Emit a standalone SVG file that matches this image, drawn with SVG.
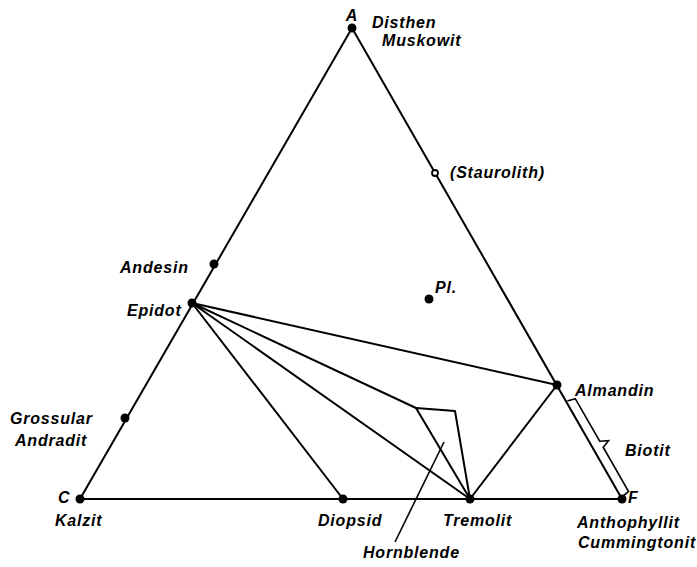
<svg xmlns="http://www.w3.org/2000/svg" width="697" height="567" viewBox="0 0 697 567">
<style>
.ln{stroke:#000;stroke-width:2;fill:none;stroke-linejoin:round;stroke-linecap:round}
.thin{stroke:#000;stroke-width:1.6;fill:none;stroke-linejoin:miter}
.dot{fill:#000}
text{font-family:"Liberation Sans",Arial,sans-serif;font-style:italic;font-weight:bold;font-size:16px;letter-spacing:0.8px;fill:#000}
</style>
<rect width="697" height="567" fill="#fff"/>
<g id="connectors">
<path class="ln" d="M352,28 L80,499 L622,499 Z"/>
<line class="ln" x1="192" y1="303" x2="557" y2="385"/>
<line class="ln" x1="192" y1="303" x2="343" y2="499"/>
<line class="ln" x1="192" y1="303" x2="470" y2="499"/>
<line class="ln" x1="192" y1="303" x2="416" y2="408"/>
<line class="ln" x1="557" y1="385" x2="470" y2="499"/>
<path class="ln" d="M470,499 L416,408 L455,411 Z"/>
<line class="thin" x1="444" y1="442" x2="395" y2="542"/>
<path class="thin" transform="translate(557,385) rotate(60.1)" d="M19,-1 L21,-9 L70,-9 L74,-17 L77,-9 L128,-9 L129,-3"/>
</g>
<g id="A"><circle class="dot" cx="352" cy="28" r="4.5"/><text x="352" y="21" text-anchor="middle">A</text><text x="372" y="28">Disthen</text><text x="382" y="46">Muskowit</text></g>
<g id="Staurolith"><circle cx="435" cy="173" r="3" fill="#fff" stroke="#000" stroke-width="1.8"/><text x="450" y="178">(Staurolith)</text></g>
<g id="Andesin"><circle class="dot" cx="214" cy="264" r="4.5"/><text x="120" y="273">Andesin</text></g>
<g id="Epidot"><circle class="dot" cx="192" cy="303" r="4.5"/><text x="127" y="316">Epidot</text></g>
<g id="Pl"><circle class="dot" cx="429" cy="299" r="4.5"/><text x="435" y="293">Pl.</text></g>
<g id="Almandin"><circle class="dot" cx="557" cy="385" r="4.5"/><text x="575" y="396">Almandin</text></g>
<g id="Grossular"><circle class="dot" cx="125" cy="418" r="4.5"/><text x="10" y="424">Grossular</text><text x="15" y="446">Andradit</text></g>
<g id="Biotit"><text x="625" y="456">Biotit</text></g>
<g id="C"><circle class="dot" cx="80" cy="499" r="4.5"/><text x="58" y="503">C</text><text x="55" y="526">Kalzit</text></g>
<g id="Diopsid"><circle class="dot" cx="343" cy="499" r="4.5"/><text x="318" y="526">Diopsid</text></g>
<g id="Tremolit"><circle class="dot" cx="470" cy="499" r="4.5"/><text x="443" y="526">Tremolit</text></g>
<g id="F"><circle class="dot" cx="622" cy="499" r="4.5"/><text x="628" y="503">F</text><text x="577" y="528">Anthophyllit</text><text x="578" y="548">Cummingtonit</text></g>
<g id="Hornblende"><text x="363" y="558">Hornblende</text></g>
</svg>
